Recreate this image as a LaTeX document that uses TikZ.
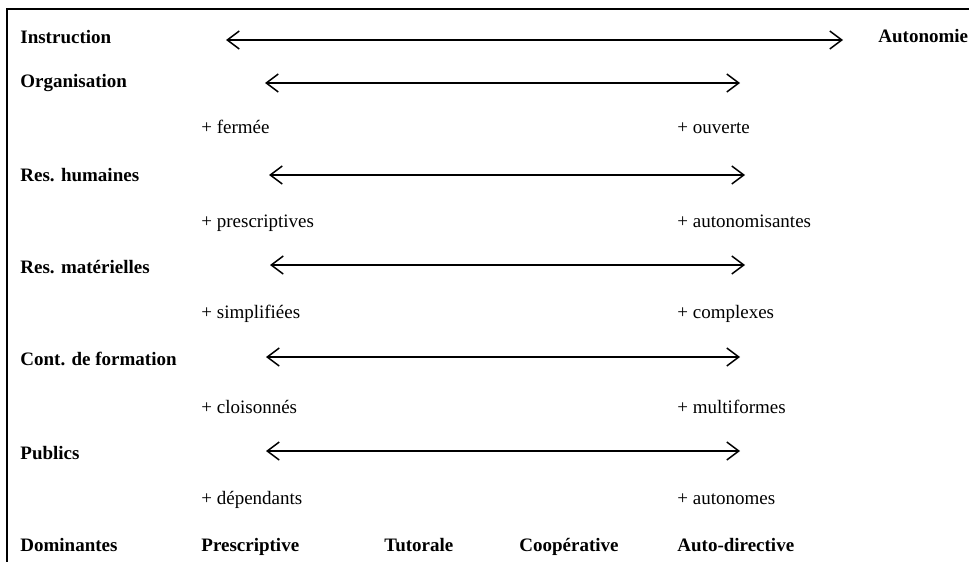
\documentclass[tikz,border=0pt]{standalone}
\usepackage{fontspec}
\setmainfont{Liberation Serif}
\usetikzlibrary{arrows.meta}

\begin{document}
\begin{tikzpicture}[x=0.5pt,y=-0.5pt,>={Straight Barb[length=6pt,width=9pt]},
  font=\fontsize{9.5}{11}\selectfont,
  head/.style={anchor=base west,inner sep=0pt,font=\fontsize{9.5}{11}\selectfont\bfseries},
  pole/.style={anchor=base west,inner sep=0pt},
  scale line/.style={<->,line width=0.75pt}]

  \useasboundingbox (0,0) rectangle (969,562);
  \draw[line width=1pt] (7,562) -- (7,9) -- (969,9);

  % rubriques
  \node[head] (instr) at (20,43) {Instruction};
  \node[head] (auto) at (878,42) {Autonomie};
  \node[head] (orga) at (20,87) {Organisation};
  \node[head] (rh) at (20,181) {Res. humaines};
  \node[head] (rm) at (20,273) {Res. matérielles};
  \node[head] (cf) at (20,365) {Cont. de formation};
  \node[head] (pub) at (20,459) {Publics};
  \node[head] (dom) at (20,551) {Dominantes};

  % poles
  \node[pole] (ferm) at (201,133) {+ fermée};
  \node[pole] (ouv) at (677,133) {+ ouverte};
  \node[pole] (presc) at (201,227) {+ prescriptives};
  \node[pole] (autonom) at (677,227) {+ autonomisantes};
  \node[pole] (simpl) at (201,318) {+ simplifiées};
  \node[pole] (compl) at (677,318) {+ complexes};
  \node[pole] (clois) at (201,413) {+ cloisonnés};
  \node[pole] (multi) at (677,413) {+ multiformes};
  \node[pole] (dep) at (201,504) {+ dépendants};
  \node[pole] (auton) at (677,504) {+ autonomes};

  % dominantes
  \node[head] (d1) at (201,551) {Prescriptive};
  \node[head] (d2) at (384,551) {Tutorale};
  \node[head] (d3) at (519,551) {Coopérative};
  \node[head] (d4) at (677,551) {Auto-directive};

  % axes
  \coordinate (a1) at (226,40);  \coordinate (b1) at (843,40);
  \coordinate (a2) at (265,83);  \coordinate (b2) at (740,83);
  \coordinate (a3) at (269,175); \coordinate (b3) at (745,175);
  \coordinate (a4) at (270,265); \coordinate (b4) at (745,265);
  \coordinate (a5) at (266,357); \coordinate (b5) at (740,357);
  \coordinate (a6) at (266,451); \coordinate (b6) at (740,451);

  \draw[scale line] (a1) -- (b1);
  \draw[scale line] (a2) -- (b2);
  \draw[scale line] (a3) -- (b3);
  \draw[scale line] (a4) -- (b4);
  \draw[scale line] (a5) -- (b5);
  \draw[scale line] (a6) -- (b6);

\end{tikzpicture}
\end{document}
